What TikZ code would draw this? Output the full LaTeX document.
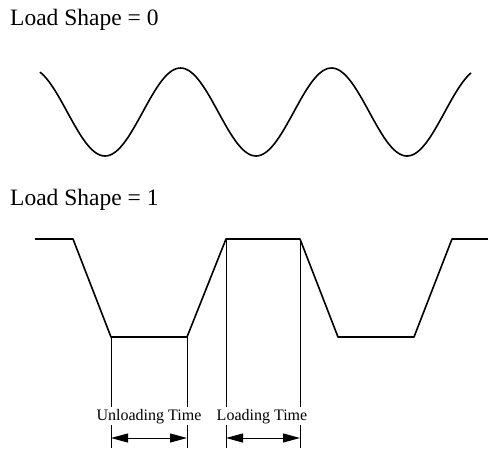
\documentclass[tikz,border=0pt]{standalone}
\usepackage{fontspec}
\setmainfont{Liberation Serif}
\usetikzlibrary{arrows.meta}
\begin{document}
\begin{tikzpicture}[x=1pt,y=-1pt,
  wave/.style={line width=1.6pt, line join=round},
  guide/.style={line width=0.8pt},
  title/.style={anchor=base west, inner sep=0pt, font=\fontsize{23.5}{26}\selectfont},
  lab/.style={anchor=base, inner xsep=1pt, inner ysep=2pt, fill=white, font=\fontsize{16}{18}\selectfont},
  dim/.style={line width=1pt, {Triangle[length=17pt,width=9pt]}-{Triangle[length=17pt,width=9pt]}}]
\useasboundingbox (0,0) rectangle (488,451);
% titles
\node[title] (t0) at (10,25) {Load Shape = 0};
\node[title] (t1) at (10,205) {Load Shape = 1};
% sine wave
\draw[wave] plot[domain=40:471, samples=200, smooth] (\x, {112+44*cos(2.38411*(\x-105))});
% trapezoid wave
\coordinate (p0) at (35,239);
\coordinate (p1) at (73,239);
\coordinate (p2) at (111,337);
\coordinate (p3) at (187,337);
\coordinate (p4) at (226,239);
\coordinate (p5) at (300,239);
\coordinate (p6) at (338,337);
\coordinate (p7) at (414,337);
\coordinate (p8) at (452,239);
\coordinate (p9) at (488,239);
\draw[wave] (p0) -- (p1) -- (p2) -- (p3) -- (p4) -- (p5) -- (p6) -- (p7) -- (p8) -- (p9);
% guide lines
\coordinate (g2) at (111,448);
\coordinate (g3) at (187,448);
\coordinate (g4) at (226,448);
\coordinate (g5) at (300,448);
\draw[guide] (p2) -- (g2);
\draw[guide] (p3) -- (g3);
\draw[guide] (p4) -- (g4);
\draw[guide] (p5) -- (g5);
% dimension arrows
\coordinate (a2) at (111,438);
\coordinate (a3) at (187,438);
\coordinate (a4) at (226,438);
\coordinate (a5) at (300,438);
\draw[dim] (a2) -- (a3);
\draw[dim] (a4) -- (a5);
% labels
\node[lab] (lu) at (149,420) {Unloading Time};
\node[lab] (ll) at (262,420) {Loading Time};
\end{tikzpicture}
\end{document}
